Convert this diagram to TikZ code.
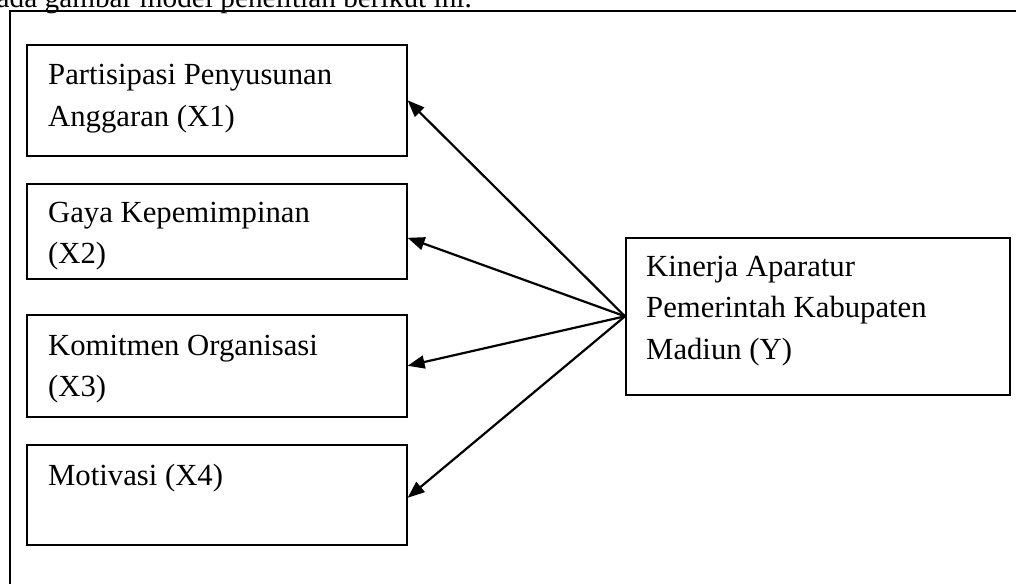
\documentclass[tikz,border=0pt]{standalone}
\usepackage{fontspec}
\setmainfont{Liberation Serif}
\usetikzlibrary{arrows.meta}
\tikzset{
  box/.style={draw=black, line width=1.6pt, anchor=north west, inner sep=0pt},
  lbl/.style={anchor=base west, inner sep=0pt, font=\fontsize{30.7}{41.5}\selectfont},
  arr/.style={line width=2.2pt, -{Triangle[length=17pt,width=13pt]}},
  frame/.style={line width=2.6pt}
}
\newcommand{\lines}[1]{\begin{tabular}[t]{@{}l@{}}#1\end{tabular}}
\begin{document}
\begin{tikzpicture}[x=1pt,y=-1pt]
\clip (0,0) rectangle (1016,583);
\fill[white] (0,0) rectangle (1016,583);
% caption text (cut at top)
\node[anchor=base east, inner sep=0pt, font=\fontsize{29.3}{36}\selectfont] (cap) at (472,8) {ada gambar model penelitian berikut ini.};
% outer frame (cut at right and bottom)
\coordinate (fr1) at (1030,11);
\coordinate (fr2) at (10,11);
\coordinate (fr3) at (10,600);
\draw[frame] (fr1) -- (fr2) -- (fr3);
% boxes
\node[box, minimum width=380pt, minimum height=111pt] (x1) at (26,44) {};
\node[box, minimum width=380pt, minimum height=95pt] (x2) at (26,183) {};
\node[box, minimum width=380pt, minimum height=102pt] (x3) at (26,314) {};
\node[box, minimum width=380pt, minimum height=100pt] (x4) at (26,444) {};
\node[box, minimum width=384pt, minimum height=157pt] (y) at (625,237) {};
% texts
\node[lbl] (t1) at (48,85) {\lines{Partisipasi Penyusunan\\Anggaran (X1)}};
\node[lbl] (t2) at (48,222) {\lines{Gaya Kepemimpinan\\(X2)}};
\node[lbl] (t3) at (48,355) {\lines{Komitmen Organisasi\\(X3)}};
\node[lbl] (t4) at (48,485) {Motivasi (X4)};
\node[lbl] (ty) at (646,276) {\lines{Kinerja Aparatur\\Pemerintah Kabupaten\\Madiun (Y)}};
% arrows
\draw[arr] (y.west) -- (x1.east);
\draw[arr] (y.west) -- ([yshift=-6.5pt]x2.east);
\draw[arr] (y.west) -- (x3.east);
\draw[arr] (y.west) -- ([yshift=-3pt]x4.east);
\end{tikzpicture}
\end{document}
